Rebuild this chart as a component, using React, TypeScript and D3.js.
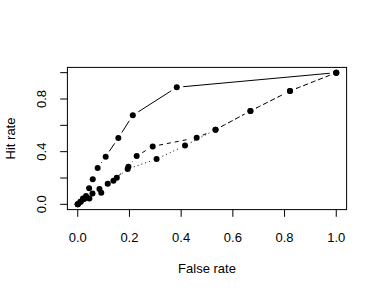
import { useEffect, useRef } from "react";
import * as d3 from "d3";

// three ROC-like curves
const falseSolid = [0, 0.01, 0.02, 0.032, 0.044, 0.058, 0.077, 0.108, 0.157, 0.213, 0.383, 1];
const hitSolid = [0, 0.02, 0.045, 0.063, 0.122, 0.19, 0.276, 0.362, 0.504, 0.676, 0.889, 1];

const falseDashed = [0, 0.012, 0.045, 0.084, 0.138, 0.196, 0.228, 0.29, 0.46, 0.533, 0.668, 0.821, 1];
const hitDashed = [0, 0.02, 0.045, 0.116, 0.18, 0.286, 0.367, 0.44, 0.506, 0.567, 0.709, 0.861, 1];

const falseDotted = [0, 0.025, 0.057, 0.091, 0.116, 0.151, 0.193, 0.305, 0.415, 0.533, 0.668, 0.821, 1];
const hitDotted = [0, 0.04, 0.083, 0.088, 0.157, 0.202, 0.268, 0.344, 0.446, 0.567, 0.709, 0.861, 1];

const xTicks = [0, 0.2, 0.4, 0.6, 0.8, 1];
const yTicks = [0, 0.2, 0.4, 0.6, 0.8, 1];
const yTickLabels = [0, 0.4, 0.8];

const W = 382;
const H = 294;

export default function App() {
  const svgRef = useRef<SVGSVGElement>(null);

  useEffect(() => {
    if (!svgRef.current) return;
    const svg = d3.select(svgRef.current);
    svg.selectAll("*").remove();

    const left = 67.4, right = 346.6, top = 67.4, bottom = 209.6;
    const x = d3.scaleLinear().domain([-0.04, 1.04]).range([left, right]);
    const y = d3.scaleLinear().domain([-0.04, 1.04]).range([bottom, top]);
    const font = "'Liberation Sans', Arial, Helvetica, sans-serif";
    const fs = 13;

    const series = [
      { fx: falseSolid, hy: hitSolid, dash: null as string | null },
      { fx: falseDashed, hy: hitDashed, dash: "4,4" },
      { fx: falseDotted, hy: hitDotted, dash: "1,3" },
    ];

    const gap = 6.5;
    series.forEach((s) => {
      const pts = s.fx.map((f, i) => [x(f), y(s.hy[i])] as [number, number]);
      // type="b": segments with gaps around the points
      for (let i = 0; i < pts.length - 1; i++) {
        const [x0, y0] = pts[i];
        const [x1, y1] = pts[i + 1];
        const len = Math.hypot(x1 - x0, y1 - y0);
        if (len <= 2 * gap) continue;
        const ux = (x1 - x0) / len, uy = (y1 - y0) / len;
        const ln = svg
          .append("line")
          .attr("x1", x0 + ux * gap)
          .attr("y1", y0 + uy * gap)
          .attr("x2", x1 - ux * gap)
          .attr("y2", y1 - uy * gap)
          .attr("stroke", "#000")
          .attr("stroke-width", 1);
        if (s.dash) ln.attr("stroke-dasharray", s.dash);
      }
      svg
        .append("g")
        .selectAll("circle")
        .data(pts)
        .enter()
        .append("circle")
        .attr("cx", (d) => d[0])
        .attr("cy", (d) => d[1])
        .attr("r", 3)
        .attr("fill", "#000");
    });

    // box
    svg
      .append("rect")
      .attr("x", left)
      .attr("y", top)
      .attr("width", right - left)
      .attr("height", bottom - top)
      .attr("fill", "none")
      .attr("stroke", "#000")
      .attr("stroke-width", 1);

    // x axis
    const gx = svg.append("g");
    xTicks.forEach((t) => {
      gx.append("line")
        .attr("x1", x(t)).attr("x2", x(t))
        .attr("y1", bottom).attr("y2", bottom + 7.2)
        .attr("stroke", "#000");
      gx.append("text")
        .attr("x", x(t))
        .attr("y", bottom + 32.5)
        .attr("text-anchor", "middle")
        .attr("font-family", font)
        .attr("font-size", fs)
        .text(d3.format(".1f")(t));
    });

    // y axis
    const gy = svg.append("g");
    yTicks.forEach((t) => {
      gy.append("line")
        .attr("x1", left - 7.2).attr("x2", left)
        .attr("y1", y(t)).attr("y2", y(t))
        .attr("stroke", "#000");
    });
    yTickLabels.forEach((t) => {
      gy.append("text")
        .attr("transform", `translate(${left - 21.5},${y(t)}) rotate(-90)`)
        .attr("text-anchor", "middle")
        .attr("font-family", font)
        .attr("font-size", fs)
        .text(d3.format(".1f")(t));
    });

    svg.append("text")
      .attr("x", (left + right) / 2)
      .attr("y", 273)
      .attr("text-anchor", "middle")
      .attr("font-family", font)
      .attr("font-size", fs)
      .text("False rate");

    svg.append("text")
      .attr("transform", `translate(14.5,${(top + bottom) / 2}) rotate(-90)`)
      .attr("text-anchor", "middle")
      .attr("font-family", font)
      .attr("font-size", fs)
      .text("Hit rate");
  }, []);

  return (
    <svg
      ref={svgRef}
      width={W}
      height={H}
      viewBox={`0 0 ${W} ${H}`}
      style={{ position: "absolute", left: 0, top: 0, background: "#fff" }}
    />
  );
}
